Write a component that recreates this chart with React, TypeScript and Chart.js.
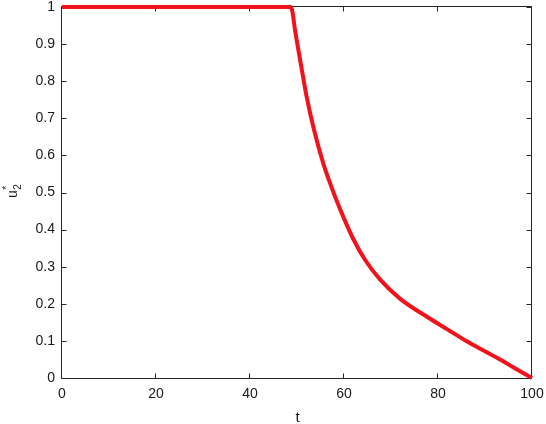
import React, { useEffect, useRef } from "react";
import { Chart, registerables } from "chart.js";

Chart.register(...registerables);

// Data (t, u2*)
const tValues = [0, 48.7, 49.7, 50.9, 52.1, 53.7, 55.6, 56.9, 58.4, 60.1, 62.0, 64.5, 67.7, 71.9, 77.9, 82.0, 86.1, 90.0, 93.2, 96.0, 100];
const uValues = [1, 1, 0.928, 0.84, 0.755, 0.665, 0.578, 0.53, 0.479, 0.427, 0.374, 0.318, 0.265, 0.214, 0.163, 0.131, 0.099, 0.072, 0.05, 0.029, 0];
const xTicks = [0, 20, 40, 60, 80, 100];
const yTicks = [0, 0.1, 0.2, 0.3, 0.4, 0.5, 0.6, 0.7, 0.8, 0.9, 1];
const xLabel = "t";
const yLabelMain = "u";
const yLabelSub = "2";
const yLabelSup = "*";

const AXIS_COLOR = "#262626";
const TEXT_COLOR = "#1a1a1a";
const FONT = "Arial, 'Liberation Sans', Helvetica, sans-serif";

export default function App() {
  const ref = useRef<HTMLCanvasElement>(null);

  useEffect(() => {
    if (!ref.current) return;

    const boxPlugin = {
      id: "matlabBox",
      beforeDatasetsDraw(chart: any) {
        const { ctx, chartArea } = chart;
        const { left, right, top, bottom } = chartArea;
        const xs = chart.scales.x;
        const ys = chart.scales.y;
        const L = left - 0.5;
        const R = right - 0.5;
        const T = top - 0.5;
        const B = bottom + 0.5;
        ctx.save();
        ctx.strokeStyle = AXIS_COLOR;
        ctx.lineWidth = 1;
        ctx.beginPath();
        ctx.rect(L, T, R - L, B - T);
        ctx.stroke();
        const tl = 5;
        ctx.beginPath();
        xTicks.forEach((v) => {
          const px = Math.round(xs.getPixelForValue(v)) - 0.5;
          ctx.moveTo(px, B);
          ctx.lineTo(px, B - tl);
          ctx.moveTo(px, T);
          ctx.lineTo(px, T + tl);
        });
        yTicks.forEach((v) => {
          const py = Math.round(ys.getPixelForValue(v)) + 0.5;
          ctx.moveTo(L, py);
          ctx.lineTo(L + tl, py);
          ctx.moveTo(R, py);
          ctx.lineTo(R - tl, py);
        });
        ctx.stroke();
        ctx.restore();
      },
      afterDraw(chart: any) {
        const { ctx } = chart;
        ctx.save();
        ctx.fillStyle = TEXT_COLOR;
        // x label
        ctx.font = `15px ${FONT}`;
        ctx.textAlign = "center";
        ctx.textBaseline = "alphabetic";
        ctx.fillText(xLabel, 297.5, 421.5);
        // y label rotated: u_2^*
        ctx.translate(17, 198);
        ctx.rotate(-Math.PI / 2);
        ctx.textAlign = "left";
        ctx.font = `14px ${FONT}`;
        ctx.fillText(yLabelMain, 0, 0);
        const w = ctx.measureText(yLabelMain).width;
        ctx.font = `10px ${FONT}`;
        ctx.fillText(yLabelSub, w + 0.5, 3.5);
        ctx.fillText(yLabelSup, w + 0.5, -7);
        ctx.restore();
      },
    };

    const chart = new Chart(ref.current, {
      type: "line",
      data: {
        datasets: [
          {
            data: tValues.map((t, i) => ({ x: t, y: uValues[i] })),
            borderColor: "#f2121b",
            backgroundColor: "#f2121b",
            borderWidth: 4,
            pointRadius: 0,
            cubicInterpolationMode: "monotone",
            fill: false,
            clip: false as any,
          },
        ],
      },
      options: {
        responsive: false,
        animation: false,
        events: [],
        layout: { padding: { top: 7, right: 14, left: 0, bottom: 0 } },
        plugins: {
          legend: { display: false },
          tooltip: { enabled: false },
          title: { display: false },
        },
        scales: {
          x: {
            type: "linear",
            min: 0,
            max: 100,
            afterBuildTicks: (scale: any) => {
              scale.ticks = xTicks.map((v) => ({ value: v }));
            },
            afterFit: (scale: any) => {
              scale.height = 46;
              scale.paddingLeft = 0;
              scale.paddingRight = 0;
            },
            grid: { display: false, drawTicks: false },
            border: { display: false },
            ticks: {
              padding: 8,
              color: TEXT_COLOR,
              font: { family: FONT, size: 14 },
              maxRotation: 0,
            },
          },
          y: {
            type: "linear",
            min: 0,
            max: 1,
            afterBuildTicks: (scale: any) => {
              scale.ticks = yTicks.map((v) => ({ value: v }));
            },
            afterFit: (scale: any) => {
              scale.width = 62;
              scale.paddingTop = 0;
              scale.paddingBottom = 0;
            },
            grid: { display: false, drawTicks: false },
            border: { display: false },
            ticks: {
              padding: 7,
              color: TEXT_COLOR,
              font: { family: FONT, size: 14 },
              callback: (v: any) => String(Math.round(Number(v) * 10) / 10),
            },
          },
        },
      },
      plugins: [boxPlugin],
    });

    return () => chart.destroy();
  }, []);

  return (
    <div style={{ position: "fixed", left: 0, top: 0, width: 546, height: 424, background: "#ffffff" }}>
      <canvas ref={ref} width={546} height={424} style={{ display: "block", width: 546, height: 424 }} />
    </div>
  );
}
